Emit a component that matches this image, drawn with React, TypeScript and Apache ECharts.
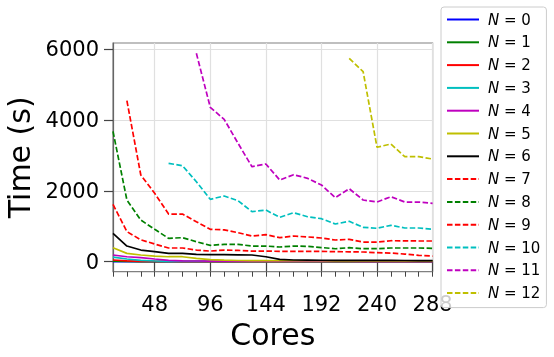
import React, { useEffect, useRef } from 'react';
import * as echarts from 'echarts';

const cores = [12, 24, 36, 48, 60, 72, 84, 96, 108, 120, 132, 144, 156, 168, 180, 192, 204, 216, 228, 240, 252, 264, 276, 288];

const n0 = [5, 3, 2, 2, 2, 2, 2, 2, 2, 2, 2, 2, 2, 2, 2, 2, 2, 2, 2, 2, 2, 2, 2, 2];
const n1 = [15, 8, 5, 4, 3, 3, 3, 3, 3, 3, 3, 3, 3, 3, 3, 3, 3, 3, 3, 3, 3, 3, 3, 3];
const n2 = [48, 25, 12, 8, 6, 5, 5, 5, 5, 5, 5, 5, 5, 5, 5, 5, 5, 5, 5, 5, 5, 5, 5, 5];
const n3 = [132, 76, 40, 20, 12, 10, 8, 8, 7, 7, 7, 7, 7, 7, 7, 7, 7, 7, 7, 7, 7, 7, 7, 7];
const n4 = [190, 141, 113, 76, 40, 25, 20, 18, 16, 15, 15, 14, 14, 14, 13, 13, 13, 13, 12, 12, 12, 12, 12, 12];
const n5 = [396, 236, 190, 160, 141, 141, 95, 57, 45, 35, 30, 30, 28, 28, 27, 27, 26, 26, 25, 25, 25, 24, 24, 24];
const n6 = [800, 443, 330, 283, 236, 236, 208, 198, 198, 195, 190, 141, 68, 48, 45, 42, 40, 40, 38, 38, 36, 35, 33, 30];
const n7 = [1620, 850, 620, 500, 387, 387, 330, 300, 330, 320, 300, 300, 293, 290, 290, 290, 285, 280, 274, 255, 245, 217, 180, 160];
const n8 = [3680, 1743, 1178, 915, 660, 680, 565, 463, 490, 490, 443, 443, 415, 443, 435, 400, 367, 396, 367, 367, 387, 387, 387, 378];
const n9 = [null, 4550, 2450, 1932, 1347, 1347, 1130, 915, 900, 820, 726, 763, 680, 726, 700, 670, 613, 633, 556, 556, 593, 590, 585, 585];
const n10 = [null, null, null, null, 2780, 2712, 2260, 1763, 1856, 1723, 1413, 1460, 1254, 1384, 1271, 1215, 1065, 1141, 972, 944, 1028, 952, 952, 915];
const n11 = [null, null, null, null, null, null, 5887, 4362, 4022, 3345, 2684, 2760, 2308, 2458, 2356, 2167, 1808, 2062, 1743, 1686, 1836, 1686, 1686, 1650];
const n12 = [null, null, null, null, null, null, null, null, null, null, null, null, null, null, null, null, null, 5746, 5368, 3232, 3325, 2966, 2966, 2901];

const seriesValues = [n0, n1, n2, n3, n4, n5, n6, n7, n8, n9, n10, n11, n12];
const seriesNames = ['N = 0', 'N = 1', 'N = 2', 'N = 3', 'N = 4', 'N = 5', 'N = 6', 'N = 7', 'N = 8', 'N = 9', 'N = 10', 'N = 11', 'N = 12'];
const seriesColors = ['#0000ff', '#008000', '#ff0000', '#00bfbf', '#bf00bf', '#bfbf00', '#000000', '#ff0000', '#008000', '#ff0000', '#00bfbf', '#bf00bf', '#bfbf00'];
const seriesDashed = [false, false, false, false, false, false, false, true, true, true, true, true, true];

const xTickLabels = [48, 96, 144, 192, 240, 288];
const yTickLabels = [0, 2000, 4000, 6000];

const FONT = 'DejaVu Sans';

export default function App() {
  const ref = useRef<HTMLDivElement>(null);
  useEffect(() => {
    const chart = echarts.init(ref.current!, null, { renderer: 'svg' });
    const series = seriesValues.map((vals, i) => ({
      name: seriesNames[i],
      type: 'line',
      symbol: 'none',
      xAxisIndex: 0,
      yAxisIndex: 0,
      data: cores.map((c, j) => [c, vals[j]]).filter((p) => p[1] !== null),
      lineStyle: {
        color: seriesColors[i],
        width: 1.7,
        type: seriesDashed[i] ? [5.5, 2.4] : 'solid',
      },
      itemStyle: { color: seriesColors[i] },
      emphasis: { disabled: true },
    }));
    chart.setOption({
      animation: false,
      textStyle: { fontFamily: FONT },
      grid: {
        left: 113,
        top: 43,
        width: 319.6,
        height: 228.7,
        containLabel: false,
        outerBoundsMode: 'none',
        show: true,
        borderColor: '#808080',
        borderWidth: 1.2,
        backgroundColor: 'transparent',
      },
      xAxis: [
        {
          type: 'value',
          min: 12,
          max: 288,
          name: 'Cores',
          nameLocation: 'middle',
          nameGap: 45,
          nameTextStyle: { fontSize: 30, color: '#000', fontFamily: FONT },
          axisLine: { show: true, lineStyle: { color: '#666', width: 1.2 } },
          axisTick: { show: true, length: 10, customValues: xTickLabels, lineStyle: { color: '#444', width: 1.2 } },
          axisLabel: { customValues: xTickLabels, fontSize: 21, color: '#000', margin: 22, fontFamily: FONT, formatter: (v: number) => String(v) },
          splitLine: { show: true, lineStyle: { color: '#e0e0e0', width: 1.2 } },
        },
        {
          type: 'value',
          min: 12,
          max: 288,
          interval: 12,
          position: 'bottom',
          axisLine: { show: false },
          axisTick: { show: true, length: 5, lineStyle: { color: '#444', width: 1 } },
          axisLabel: { show: false },
          splitLine: { show: false },
        },
      ],
      yAxis: {
        type: 'value',
        min: -282,
        max: 6178,
        name: 'Time (s)',
        nameLocation: 'middle',
        nameGap: 76,
        nameTextStyle: { fontSize: 30, color: '#000', fontFamily: FONT },
        axisLine: { show: true, lineStyle: { color: '#666', width: 1.2 } },
        axisTick: { show: true, length: 9, customValues: yTickLabels, lineStyle: { color: '#444', width: 1.2 } },
        axisLabel: { customValues: yTickLabels, fontSize: 21, color: '#000', margin: 14, fontFamily: FONT, formatter: (v: number) => String(v) },
        splitLine: { show: true, lineStyle: { color: '#e0e0e0', width: 1.2 } },
      },
      legend: {
        orient: 'vertical',
        left: 441,
        top: 7,
        padding: [5, 6, 7, 5],
        itemWidth: 32,
        itemHeight: 10,
        itemGap: 7.8,
        backgroundColor: 'rgba(255,255,255,0.8)',
        borderColor: '#cccccc',
        borderWidth: 1,
        borderRadius: 3,
        data: seriesNames,
        itemStyle: { color: 'rgba(0,0,0,0)', borderWidth: 0, opacity: 0 },
        formatter: (name: string) => '{i|N}{t|' + name.slice(1) + '}',
        textStyle: {
          fontFamily: FONT,
          fontSize: 15,
          color: '#000',
          padding: [0, 0, 0, 4],
          rich: {
            i: { fontStyle: 'italic', fontSize: 15, fontFamily: FONT, color: '#000', lineHeight: 15 },
            t: { fontSize: 15, fontFamily: FONT, color: '#000', lineHeight: 15 },
          },
        },
        z: 10,
      },
      series,
    });
    return () => chart.dispose();
  }, []);
  return <div ref={ref} style={{ position: 'fixed', left: 0, top: 0, width: 554, height: 357 }} />;
}
